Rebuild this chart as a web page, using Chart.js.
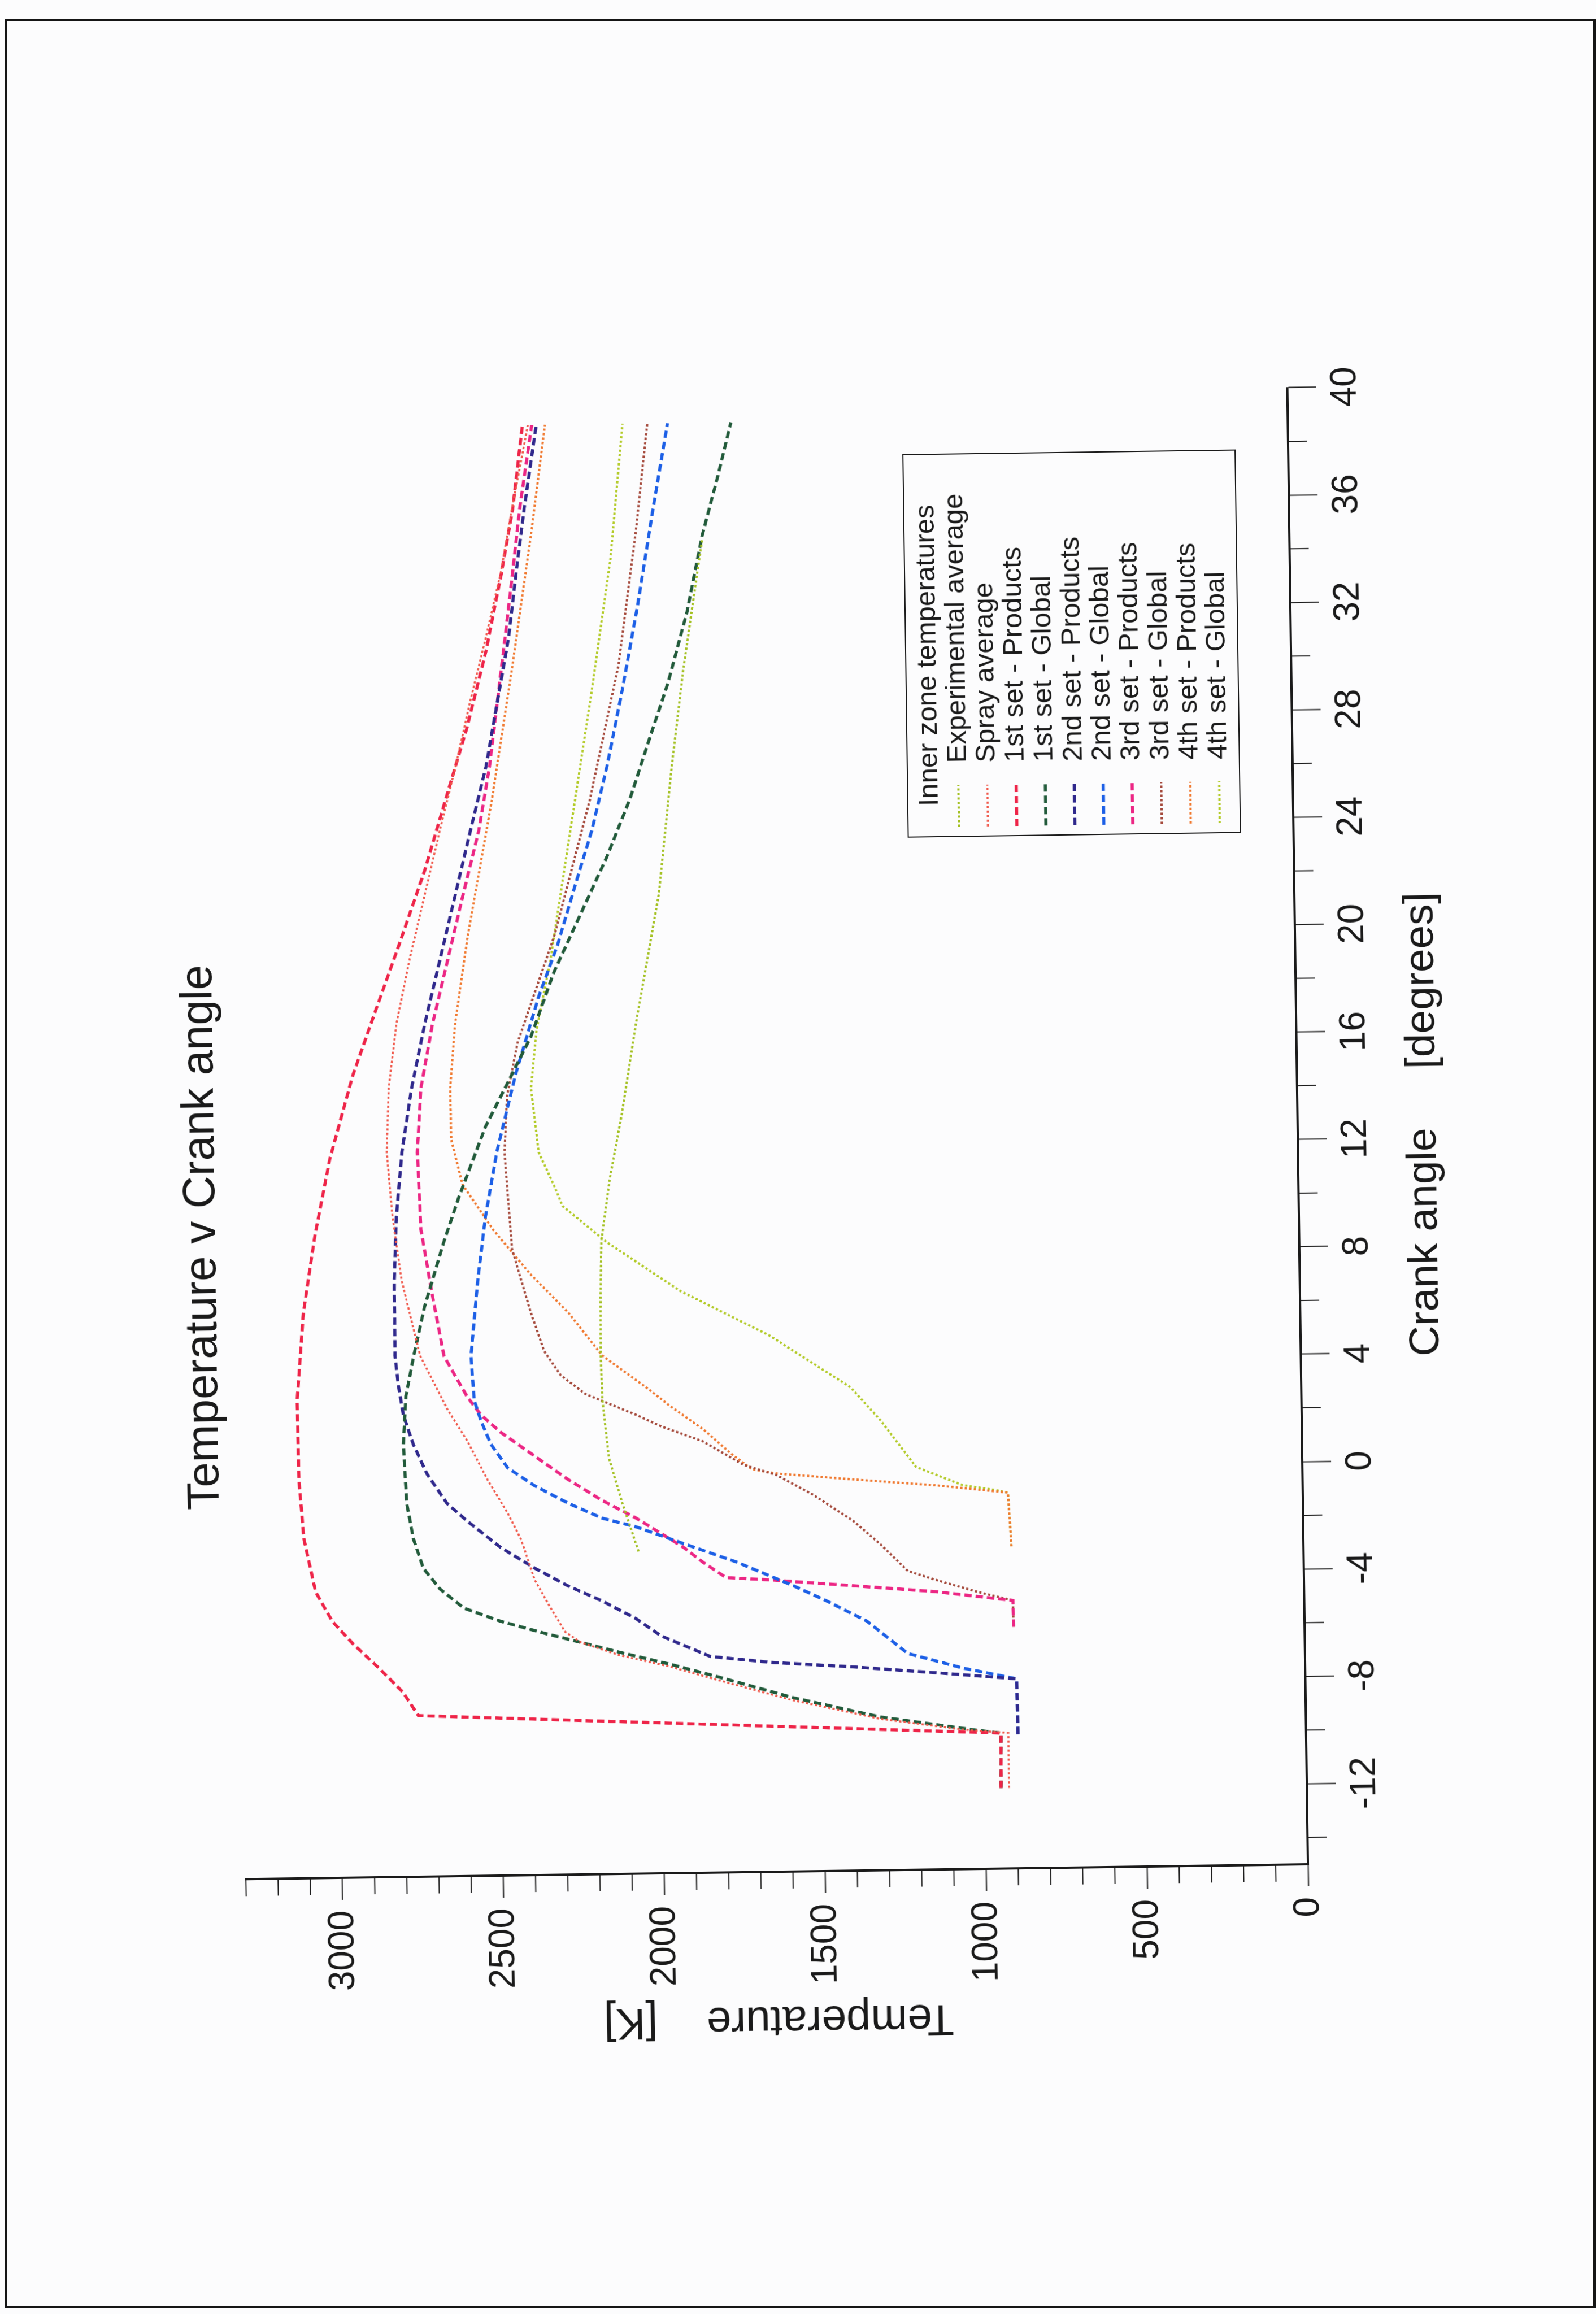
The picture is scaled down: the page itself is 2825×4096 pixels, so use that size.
<!DOCTYPE html>
<html><head><meta charset="utf-8">
<script src="https://cdn.jsdelivr.net/npm/chart.js@4.4.1/dist/chart.umd.min.js"></script>
<style>
html,body{margin:0;padding:0;background:#fcfcfd;width:2825px;height:4096px;overflow:hidden;}
#rot{position:absolute;left:-635.5px;top:635.5px;width:4096px;height:2825px;transform:rotate(-90.8deg);transform-origin:50% 50%;}
#frame{position:absolute;left:8px;top:33px;width:2817px;height:4053px;box-sizing:border-box;border:5px solid #151515;}
canvas{display:block}
</style></head><body>
<div id="rot"><canvas id="c" width="4096" height="2825"></canvas></div>
<div id="frame"></div>
<script>
// ---------------- data ----------------
const chartTitle = 'Temperature v Crank angle';
const legendTitle = 'Inner zone temperatures';
const xAxisTitle = 'Crank angle     [degrees]';
const yAxisTitle = 'Temperature    [K]';
const seriesNames = ['Experimental average','Spray average','1st set - Products','1st set - Global','2nd set - Products','2nd set - Global','3rd set - Products','3rd set - Global','4th set - Products','4th set - Global'];

const crankExpAvg = [-3.0,-1.2,0.5,2.7,4.3,6.5,8.6,10.9,13.3,16.8,21.5,26.2,29.8,34.7];
const tempExpAvg  = [2066,2114,2154,2172,2175,2173,2168,2139,2099,2049,1974,1929,1889,1824];

const crankSpray = [-12.0,-9.95,-9.8,-9.36,-8.6,-7.85,-7.3,-6.85,-6.35,-5.95,-4.9,-4.0,-2.5,-1.5,-0.25,1.2,2.4,4.4,7.2,9.6,12.0,14.4,16.8,19.2,21.6,24.0,26.3,28.7,31.1,33.5,35.9,39.0];
const tempSpray  = [925,925,1067,1322,1600,1819,1975,2131,2250,2298,2349,2390,2430,2471,2532,2593,2654,2736,2790,2816,2831,2822,2795,2751,2701,2651,2601,2553,2501,2452,2414,2361];

const crank1P = [-12.0,-9.95,-9.0,-8.12,-7.23,-6.28,-5.45,-4.34,-2.36,-0.16,2.81,6.05,8.91,11.78,14.88,17.26,19.64,22.5,25.36,27.74,30.6,33.48,35.87,39.0];
const temp1P  = [950,948,2757,2804,2876,2958,3020,3071,3105,3118,3120,3097,3058,3008,2933,2860,2786,2700,2626,2564,2501,2450,2412,2378];

const crank1G = [-12.0,-9.95,-9.83,-9.29,-8.53,-7.73,-7.21,-6.74,-6.4,-6.0,-5.53,-5.02,-4.3,-3.52,-2.41,-1.09,1.11,2.9,4.4,6.23,8.61,10.28,12.9,14.57,16.23,18.61,20.75,22.89,25.03,27.18,29.32,31.95,34.81,36.96,39.0];
const temp1G  = [950,948,1025,1322,1591,1819,1975,2131,2236,2361,2497,2611,2684,2735,2765,2784,2792,2782,2756,2720,2658,2609,2523,2450,2378,2304,2219,2134,2060,1999,1937,1875,1824,1774,1730];

const crank2P = [-10.0,-7.94,-7.67,-7.41,-7.2,-6.95,-6.16,-5.49,-4.82,-4.25,-3.57,-2.79,-1.78,-1.11,0.0,1.1,2.21,3.31,4.41,7.2,9.59,11.98,14.37,16.77,19.15,21.54,23.93,26.3,28.7,31.1,33.5,35.9,39.0];
const temp2P  = [895,897,1150,1405,1660,1847,1999,2078,2182,2286,2389,2493,2597,2659,2720,2761,2791,2805,2814,2813,2804,2784,2751,2707,2657,2607,2557,2506,2468,2430,2404,2376,2335];

const crank2G = [-10.0,-7.94,-7.51,-6.94,-5.71,-4.92,-4.36,-3.45,-2.77,-2.08,-1.74,-1.17,-0.5,0.18,1.07,1.95,2.72,4.37,7.15,9.55,11.95,14.84,17.72,19.64,22.03,23.87,26.3,29.1,32.22,35.8,39.0];
const temp2G  = [895,897,1064,1234,1360,1487,1586,1761,1917,2073,2178,2282,2386,2469,2520,2550,2570,2578,2554,2527,2489,2427,2352,2291,2229,2180,2129,2079,2028,1976,1927];

const crank3P = [-6.0,-5.02,-4.65,-4.39,-4.13,-4.02,-3.44,-2.88,-2.54,-1.75,-1.08,-0.29,0.6,1.5,2.17,2.84,3.72,4.38,6.69,9.1,11.97,14.37,16.76,19.14,21.53,23.93,26.3,28.7,31.1,33.5,35.9,39.0];
const temp3P  = [904,905,1146,1401,1656,1795,1866,1925,1969,2073,2177,2281,2384,2488,2550,2591,2632,2662,2696,2728,2736,2722,2683,2633,2583,2531,2495,2468,2441,2415,2390,2349];

const crank3G = [-6.0,-5.02,-4.67,-4.21,-3.87,-2.86,-1.97,-0.96,-0.23,0.17,1.07,1.64,2.09,2.89,3.6,4.5,5.94,8.33,11.94,14.0,16.0,18.0,20.0,25.0,30.0,35.0,39.0];
const temp3G  = [904,905,1018,1145,1230,1314,1398,1524,1634,1736,1862,1989,2068,2224,2300,2350,2390,2446,2465,2455,2420,2360,2300,2185,2090,2030,1990];

const crank4P = [-3.0,-1.0,-0.69,-0.43,-0.17,0.0,0.62,1.51,2.41,3.05,4.31,5.92,7.37,9.06,10.76,12.43,14.35,16.75,20.0,25.0,30.0,35.0,39.0];
const temp4P  = [907,916,1141,1396,1634,1710,1777,1859,1963,2029,2170,2273,2389,2504,2597,2630,2631,2613,2570,2490,2420,2355,2308];

const crank4G = [-3.0,-1.0,-0.9,-0.7,0.0,1.75,3.0,4.98,6.67,8.53,9.9,10.6,11.92,14.31,16.5,19.0,24.0,29.0,34.0,39.0];
const temp4G  = [907,916,954,1056,1200,1308,1400,1651,1924,2151,2287,2310,2359,2380,2360,2315,2245,2175,2110,2067];

const crankTicks = [-12,-8,-4,0,4,8,12,16,20,24,28,32,36,40];
const tempTicks = [0,500,1000,1500,2000,2500,3000];

// ---------------- styles ----------------
const FONT = '"Liberation Sans", Arial, Helvetica, sans-serif';
const INK = '#1a1a1a';
const DASH = [13,7], DOT = [4,4];
const styles = [
  {c:'#a3c020', d:DOT,  w:4},
  {c:'#f0584a', d:DOT,  w:3.5},
  {c:'#ee2448', d:DASH, w:5.5},
  {c:'#215a3a', d:DASH, w:5.5},
  {c:'#2f288c', d:DASH, w:5.5},
  {c:'#1c5fe6', d:DASH, w:5.5},
  {c:'#ec2684', d:DASH, w:5.5},
  {c:'#a4483a', d:DOT,  w:4},
  {c:'#f0782e', d:DOT,  w:4},
  {c:'#b2ca26', d:DOT,  w:4}
];
const seriesX = [crankExpAvg,crankSpray,crank1P,crank1G,crank2P,crank2G,crank3P,crank3G,crank4P,crank4G];
const seriesY = [tempExpAvg,tempSpray,temp1P,temp1G,temp2P,temp2G,temp3P,temp3G,temp4P,temp4G];

const datasets = seriesNames.map((name,i)=>({
  label: name,
  data: seriesX[i].map((x,k)=>({x:x, y:seriesY[i][k]})),
  borderColor: styles[i].c,
  backgroundColor: styles[i].c,
  borderDash: styles[i].d,
  borderWidth: styles[i].w,
  pointRadius: 0,
  tension: 0,
  fill: false
}));

const decor = {
  id: 'decor',
  afterDraw(chart){
    const ctx = chart.ctx, a = chart.chartArea, xs = chart.scales.x, ys = chart.scales.y;
    ctx.save();
    // minor ticks
    ctx.strokeStyle = INK; ctx.lineWidth = 2; ctx.setLineDash([]);
    for (let v = -14; v <= 40; v += 2) {
      if (crankTicks.includes(v)) continue;
      const p = xs.getPixelForValue(v);
      ctx.beginPath(); ctx.moveTo(p, a.bottom); ctx.lineTo(p, a.bottom + 34); ctx.stroke();
    }
    for (let v = 100; v <= 3300; v += 100) {
      if (tempTicks.includes(v)) continue;
      const p = ys.getPixelForValue(v);
      ctx.beginPath(); ctx.moveTo(a.left, p); ctx.lineTo(a.left - 30, p); ctx.stroke();
    }
    // title
    ctx.fillStyle = INK;
    ctx.font = '80px ' + FONT;
    ctx.textAlign = 'center'; ctx.textBaseline = 'alphabetic';
    ctx.fillText(chartTitle, a.left + 1137, a.top - 39);
    // legend
    const bx = a.left + 1828, by = a.top + 1198, bw = 677, bh = 588;
    ctx.lineWidth = 2; ctx.strokeStyle = INK;
    ctx.strokeRect(bx, by, bw, bh);
    ctx.font = '49px ' + FONT;
    ctx.textAlign = 'left'; ctx.textBaseline = 'middle';
    ctx.fillText(legendTitle, bx + 54, by + 39);
    chart.data.datasets.forEach((ds, i) => {
      const yy = by + 90 + i * 51.3;
      ctx.save();
      ctx.strokeStyle = ds.borderColor; ctx.lineWidth = ds.borderWidth; ctx.setLineDash(ds.borderDash);
      ctx.beginPath(); ctx.moveTo(bx + 17, yy); ctx.lineTo(bx + 91, yy); ctx.stroke();
      ctx.restore();
      ctx.fillStyle = INK;
      ctx.fillText(ds.label, bx + 130, yy);
    });
    ctx.restore();
  }
};

new Chart(document.getElementById('c'), {
  type: 'line',
  data: { datasets: datasets },
  options: {
    responsive: false,
    animation: false,
    devicePixelRatio: 1,
    layout: { padding: { left: 472, right: 698, top: 417, bottom: 256 } },
    plugins: { legend: { display: false }, title: { display: false }, tooltip: { enabled: false } },
    elements: { line: { borderCapStyle: 'butt' } },
    scales: {
      x: {
        type: 'linear', min: -15, max: 40,
        afterFit(s){ s.height = 272; },
        afterBuildTicks(s){ s.ticks = crankTicks.map(v => ({value: v})); },
        border: { display: true, color: INK, width: 4 },
        grid: { display: true, drawOnChartArea: false, drawTicks: true, tickLength: 51, tickWidth: 2, tickColor: INK },
        ticks: { autoSkip: false, maxRotation: 0, minRotation: 0, padding: 14, color: INK,
                 font: { size: 64, family: FONT }, callback: v => String(v) },
        title: { display: true, text: xAxisTitle, color: INK, font: { size: 75, family: FONT } }
      },
      y: {
        type: 'linear', min: 0, max: 3300,
        afterFit(s){ s.width = 312; },
        afterBuildTicks(s){ s.ticks = tempTicks.map(v => ({value: v})); },
        border: { display: true, color: INK, width: 4 },
        grid: { display: true, drawOnChartArea: false, drawTicks: true, tickLength: 39, tickWidth: 2, tickColor: INK },
        ticks: { autoSkip: false, padding: 19, color: INK,
                 font: { size: 64, family: FONT }, callback: v => String(v) },
        title: { display: true, text: yAxisTitle, color: INK, font: { size: 78, family: FONT } }
      }
    }
  },
  plugins: [decor]
});
</script>
</body></html>
